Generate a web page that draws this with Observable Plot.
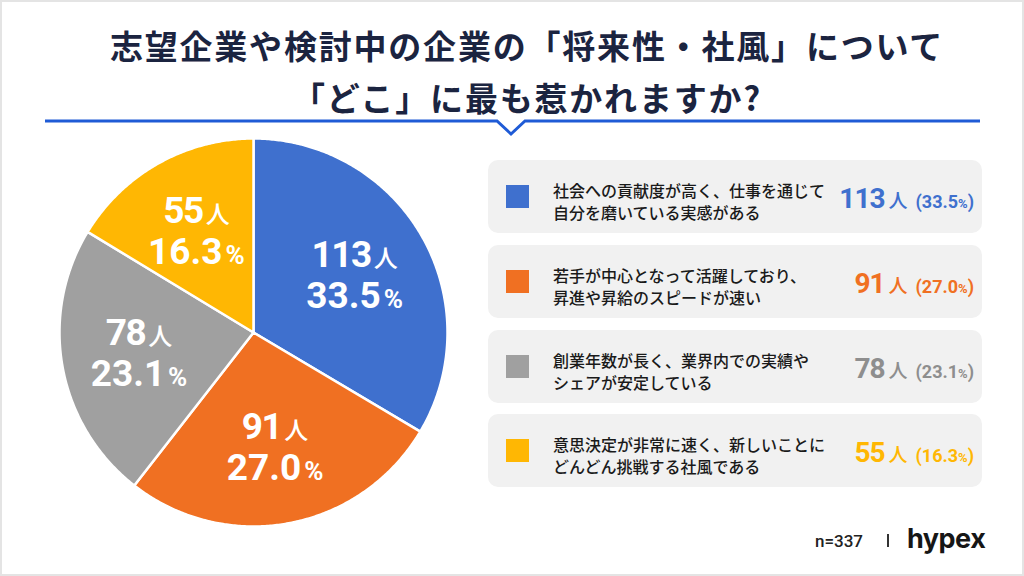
<!DOCTYPE html>
<html><head><meta charset="utf-8">
<script src="https://cdn.jsdelivr.net/npm/d3@7"></script>
<script src="https://cdn.jsdelivr.net/npm/@observablehq/plot@0.6"></script>
<style>
html,body{margin:0;padding:0;}
body{width:1024px;height:576px;position:relative;background:#fff;overflow:hidden;font-family:"Noto Sans CJK JP",sans-serif;}
#frame{position:absolute;left:0;top:0;width:1024px;height:576px;border:2px solid #e4e4e4;box-sizing:border-box;pointer-events:none;}
#title{position:absolute;left:0;top:19px;width:1024px;box-sizing:border-box;padding-left:30px;text-align:center;font-weight:700;font-size:33px;line-height:52px;color:#1b2440;letter-spacing:1.8px;}
#deco{position:absolute;left:0;top:0;}
#pie{position:absolute;left:53px;top:132px;}
.box{position:absolute;left:488px;width:494px;height:73px;border-radius:10px;background:#f1f1f1;}
.sw{position:absolute;left:18px;top:25px;width:23px;height:23px;}
.lab{position:absolute;left:65px;top:19px;font-size:16px;line-height:22px;font-weight:500;color:#1a1a1a;white-space:pre;}
.val{position:absolute;right:8px;top:25px;line-height:28px;white-space:nowrap;display:flex;align-items:baseline;}
.num{font-family:"Roboto",sans-serif;font-weight:700;font-size:28px;letter-spacing:-1px;}
.unit{font-size:19px;font-weight:500;margin-left:4px;}
.pct{font-family:"Roboto",sans-serif;font-weight:700;font-size:18px;margin-left:8px;}
.pct small{font-size:13px;}
#foot{position:absolute;top:522px;left:0;width:1024px;height:40px;}
#n{position:absolute;left:815px;top:9px;font-family:Roboto,sans-serif;font-size:17px;font-weight:500;color:#222;}
#bar{position:absolute;left:887px;top:12px;width:2px;height:13px;background:#333;}
#logo{position:absolute;left:907px;top:0px;font-family:Inter,sans-serif;font-size:27px;font-weight:700;color:#161616;letter-spacing:-0.5px;}
</style></head>
<body>
<div id="title">志望企業や検討中の企業の「将来性・社風」について<br>「どこ」に最も惹かれますか?</div>
<svg id="deco" width="1024" height="150"><polyline points="45,121 497,121 511,134 525,121 980,121" fill="none" stroke="#1f5bd6" stroke-width="3"/></svg>
<div id="pie"></div>
<div id="legend"></div>
<div id="foot"><span id="n">n=337</span><span id="bar"></span><span id="logo">hypex</span></div>
<div id="frame"></div>
<script>
const categories = [
  "社会への貢献度が高く、仕事を通じて\n自分を磨いている実感がある",
  "若手が中心となって活躍しており、\n昇進や昇給のスピードが速い",
  "創業年数が長く、業界内での実績や\nシェアが安定している",
  "意思決定が非常に速く、新しいことに\nどんどん挑戦する社風である"
];
const counts = [113, 91, 78, 55];
const percents = ["33.5", "27.0", "23.1", "16.3"];
const colors = ["#3f70ce", "#f07022", "#a0a0a0", "#ffb703"];
const valueColors = ["#3f70ce", "#f07022", "#8e8e8e", "#ffb703"];

const arcs = d3.pie().sort(null).value(d => d)(counts);
const slices = arcs.map((a, i) => {
  const pts = [[0, 0]];
  const n = Math.max(2, Math.ceil((a.endAngle - a.startAngle) / (Math.PI / 360)));
  for (let k = 0; k <= n; k++) {
    const t = a.startAngle + (a.endAngle - a.startAngle) * k / n;
    pts.push([Math.sin(t), -Math.cos(t)]);
  }
  pts.push([0, 0]);
  return {type: "Feature", properties: {cat: categories[i]}, geometry: {type: "Polygon", coordinates: [pts]}};
});
const labels = arcs.map((a, i) => {
  const m = (a.startAngle + a.endAngle) / 2;
  return {x: 0.6 * Math.sin(m), y: -0.6 * Math.cos(m), count: counts[i], pct: percents[i]};
});
const FF = "Roboto, sans-serif";
const plot = Plot.plot({
  width: 400, height: 400, margin: 6,
  style: {background: "transparent", overflow: "visible"},
  projection: {type: "identity", domain: {type: "MultiPoint", coordinates: [[-1, -1], [1, 1]]}},
  color: {domain: categories, range: colors},
  marks: [
    Plot.geo(slices, {fill: d => d.properties.cat, stroke: "white", strokeWidth: 2.5, strokeLinejoin: "round"}),
    Plot.text(labels, {x: "x", y: "y", text: d => d.count + "人", dy: -20, fill: "white", fontSize: 37, fontWeight: 700, fontFamily: FF}),
    Plot.text(labels, {x: "x", y: "y", text: d => d.pct + "%", dy: 21, fill: "white", fontSize: 37, fontWeight: 700, fontFamily: FF})
  ]
});
document.getElementById("pie").appendChild(plot);
d3.select(plot).selectAll("text").each(function() {
  const t = this.textContent;
  const m = t.match(/^([\d.]+)(人|%)$/);
  if (!m) return;
  const sel = d3.select(this);
  sel.text(null);
  sel.append("tspan").attr("letter-spacing", m[2] === "人" ? -1.5 : 0).text(m[1]);
  sel.append("tspan").attr("font-size", m[2] === "人" ? 24 : 26)
    .attr("font-family", m[2] === "人" ? "'Noto Sans CJK JP', sans-serif" : FF)
    .attr("font-weight", m[2] === "人" ? 500 : 700)
    .attr("dx", 3).text(m[2]);
});

const tops = [160, 245, 330, 414];
const legend = document.getElementById("legend");
categories.forEach((c, i) => {
  const b = document.createElement("div");
  b.className = "box";
  b.style.top = tops[i] + "px";
  b.innerHTML = `<div class="sw" style="background:${colors[i]}"></div>
    <div class="lab">${c}</div>
    <div class="val" style="color:${valueColors[i]}"><span class="num">${counts[i]}</span><span class="unit">人</span><span class="pct">(${percents[i]}<small>%</small>)</span></div>`;
  legend.appendChild(b);
});
</script>
</body></html>
